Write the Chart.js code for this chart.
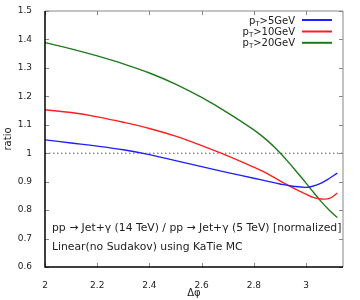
<!DOCTYPE html>
<html>
<head>
<meta charset="utf-8">
<script src="https://cdn.jsdelivr.net/npm/chart.js@4.4.0/dist/chart.umd.min.js"></script>
<style>
  html, body { margin: 0; padding: 0; background: #fff; }
  #wrap { width: 360px; height: 300px; }
</style>
</head>
<body>
<div id="wrap"><canvas id="ratioChart"></canvas></div>
<script>
// data
const dphi = [2.0, 2.1, 2.2, 2.3, 2.4, 2.5, 2.6, 2.7, 2.8, 2.85, 2.9, 2.95, 3.0, 3.03, 3.06, 3.09, 3.12];
const pt5  = [1.047, 1.036, 1.025, 1.012, 0.995, 0.974, 0.953, 0.932, 0.912, 0.902, 0.892, 0.884, 0.880, 0.885, 0.896, 0.912, 0.930];
const pt10 = [1.153, 1.143, 1.128, 1.109, 1.087, 1.060, 1.027, 0.991, 0.951, 0.929, 0.903, 0.878, 0.856, 0.844, 0.839, 0.841, 0.860];
const pt20 = [1.389, 1.367, 1.342, 1.314, 1.282, 1.243, 1.196, 1.142, 1.082, 1.046, 1.002, 0.950, 0.895, 0.861, 0.828, 0.799, 0.774];

const refX = [2, Math.PI];
const refY = [1, 1];

const xTicks = [2, 2.2, 2.4, 2.6, 2.8, 3];
const yTicks = [0.6, 0.7, 0.8, 0.9, 1, 1.1, 1.2, 1.3, 1.4, 1.5];

const seriesLabels = ['p_T>5GeV', 'p_T>10GeV', 'p_T>20GeV'];
const seriesColors = ['#1f1fff', '#ff1f1f', '#1e7a1e'];
const noteLines = [
    'pp \u2192 Jet+\u03b3 (14 TeV) / pp \u2192 Jet+\u03b3 (5 TeV) [normalized]',
    'Linear(no Sudakov) using KaTie MC'
];

const FONT = "'DejaVu Sans', sans-serif";
const pts = (xs, ys) => xs.map((x, i) => ({ x: x, y: ys[i] }));

// frame, inward ticks, legend and notes
const framePlugin = {
    id: 'frame',
    afterDatasetsDraw(chart) {
        const ctx = chart.ctx;
        const a = chart.chartArea;
        const xs = chart.scales.x, ys = chart.scales.y;
        ctx.save();

        // tick marks on all four sides
        ctx.strokeStyle = '#888';
        ctx.lineWidth = 1;
        ctx.beginPath();
        xTicks.forEach(v => {
            const px = Math.round(xs.getPixelForValue(v)) + 0.5;
            ctx.moveTo(px, a.bottom); ctx.lineTo(px, a.bottom - 4);
            ctx.moveTo(px, a.top); ctx.lineTo(px, a.top + 4);
        });
        yTicks.forEach(v => {
            const py = Math.round(ys.getPixelForValue(v)) + 0.5;
            ctx.moveTo(a.left, py); ctx.lineTo(a.left + 4, py);
            ctx.moveTo(a.right, py); ctx.lineTo(a.right - 4, py);
        });
        ctx.stroke();

        // top + right border grey, left + bottom black
        ctx.beginPath();
        ctx.moveTo(a.left, a.top); ctx.lineTo(a.right, a.top); ctx.lineTo(a.right, a.bottom);
        ctx.stroke();
        ctx.strokeStyle = '#000';
        ctx.lineWidth = 1.5;
        ctx.beginPath();
        ctx.moveTo(a.left, a.top); ctx.lineTo(a.left, a.bottom); ctx.lineTo(a.right, a.bottom);
        ctx.stroke();

        // legend with subscript T
        const textRight = 295;
        const rowY = [20, 31.5, 42.8];
        chart.data.datasets.forEach((ds, i) => {
            if (!ds.label) return;
            const parts = ds.label.split('_');
            const sub = parts[1].charAt(0);
            const rest = parts[1].slice(1);
            const y = rowY[i];
            ctx.font = '10px ' + FONT;
            const w1 = ctx.measureText(parts[0]).width;
            const w3 = ctx.measureText(rest).width;
            ctx.font = '7px ' + FONT;
            const w2 = ctx.measureText(sub).width;
            let x = textRight - (w1 + w2 + w3);
            ctx.fillStyle = '#222';
            ctx.textBaseline = 'alphabetic';
            ctx.textAlign = 'left';
            ctx.font = '10px ' + FONT;
            ctx.fillText(parts[0], x, y + 3.5);
            ctx.font = '7px ' + FONT;
            ctx.fillText(sub, x + w1, y + 5.5);
            ctx.font = '10px ' + FONT;
            ctx.fillText(rest, x + w1 + w2, y + 3.5);

            ctx.strokeStyle = ds.borderColor;
            ctx.lineWidth = 2;
            ctx.beginPath();
            ctx.moveTo(302, y); ctx.lineTo(332, y);
            ctx.stroke();
        });

        // notes
        ctx.fillStyle = '#222';
        ctx.font = '10.8px ' + FONT;
        ctx.textAlign = 'left';
        ctx.fillText(noteLines[0], 52, 231);
        ctx.fillText(noteLines[1], 52, 249.5);
        ctx.restore();
    }
};

const ctx = document.getElementById('ratioChart').getContext('2d');
new Chart(ctx, {
    type: 'line',
    data: {
        datasets: [
            { label: seriesLabels[0], data: pts(dphi, pt5), borderColor: seriesColors[0] },
            { label: seriesLabels[1], data: pts(dphi, pt10), borderColor: seriesColors[1] },
            { label: seriesLabels[2], data: pts(dphi, pt20), borderColor: seriesColors[2] },
            { label: '', data: pts(refX, refY), borderColor: '#555', borderWidth: 1, borderDash: [1.5, 2.5], tension: 0 }
        ]
    },
    options: {
        responsive: true,
        maintainAspectRatio: false,
        animation: false,
        layout: { padding: { top: 11, right: 17, left: 0, bottom: 0 } },
        elements: {
            point: { radius: 0 },
            line: { borderWidth: 1.4, tension: 0.4, fill: false }
        },
        plugins: {
            legend: { display: false },
            tooltip: { enabled: false }
        },
        scales: {
            x: {
                type: 'linear',
                min: 2,
                max: Math.PI,
                afterBuildTicks: s => { s.ticks = xTicks.map(v => ({ value: v })); },
                afterFit: s => { s.height = 33; },
                grid: { display: false },
                border: { display: false },
                ticks: {
                    color: '#222',
                    font: { family: FONT, size: 9 },
                    padding: 5,
                    maxRotation: 0,
                    callback: v => String(v)
                },
                title: {
                    display: true,
                    text: '\u0394\u03c6',
                    color: '#222',
                    font: { family: FONT, size: 10 },
                    padding: { top: 0, bottom: 1 }
                }
            },
            y: {
                min: 0.6,
                max: 1.5,
                afterBuildTicks: s => { s.ticks = yTicks.map(v => ({ value: v })); },
                afterFit: s => { s.width = 45; },
                grid: { display: false },
                border: { display: false },
                ticks: {
                    color: '#222',
                    font: { family: FONT, size: 9 },
                    padding: 5,
                    callback: v => String(v)
                },
                title: {
                    display: true,
                    text: 'ratio',
                    color: '#222',
                    font: { family: FONT, size: 10 },
                    padding: { top: 2, bottom: 0 }
                }
            }
        }
    },
    plugins: [framePlugin]
});
</script>
</body>
</html>
